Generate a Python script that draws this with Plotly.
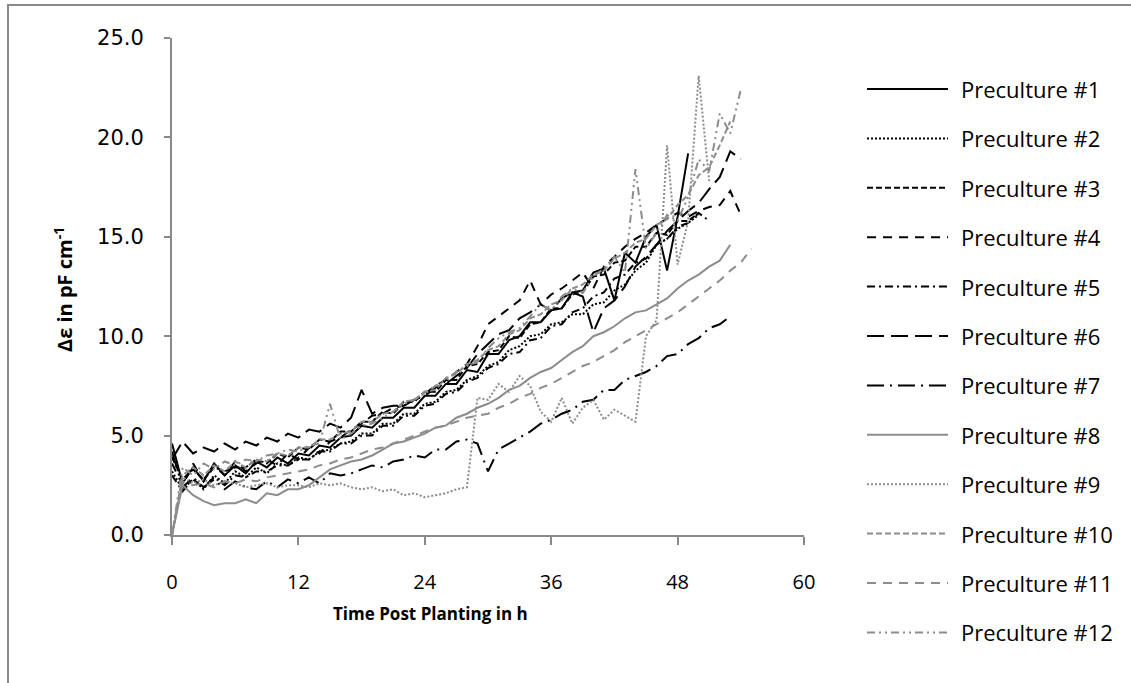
import plotly.graph_objects as go

# ---------------- data (hourly readings, h post planting) ----------------
TIME = list(range(0, 56))

names = [f"Preculture #{i}" for i in range(1, 13)]

pc1 = [4.6, 2.6, 3.4, 2.7, 3.6, 3.0, 3.5, 3.1, 3.7, 3.4, 3.9, 3.6, 4.1, 4.0, 4.5, 4.4, 4.9, 5.0, 5.5, 5.4,
       5.9, 5.9, 6.4, 6.4, 7.0, 7.0, 7.6, 7.6, 8.3, 8.2, 9.1, 9.1, 9.8, 10.0, 10.7, 10.7, 11.3, 11.4, 12.2, 12.3,
       13.2, 13.4, 11.8, 14.2, 13.7, 15.0, 15.6, 13.3, 16.0, 19.2]
pc2 = [3.2, 2.3, 2.8, 2.3, 3.0, 2.6, 3.2, 2.9, 3.4, 3.1, 3.6, 3.5, 3.9, 3.8, 4.2, 4.3, 4.6, 4.7, 5.1, 5.1,
       5.6, 5.6, 6.1, 6.1, 6.6, 6.7, 7.2, 7.3, 7.8, 8.0, 8.5, 8.7, 9.3, 9.5, 10.0, 10.1, 10.6, 10.7, 11.1, 11.1,
       11.6, 11.7, 12.3, 12.6, 13.3, 13.7, 14.6, 14.9, 15.4, 15.7, 16.1]
pc3 = [3.9, 2.8, 3.3, 2.8, 3.4, 3.2, 3.4, 3.4, 3.8, 3.6, 4.1, 3.9, 4.4, 4.3, 4.8, 4.7, 5.2, 5.2, 5.7, 5.7,
       6.2, 6.1, 6.7, 6.7, 7.2, 7.2, 7.8, 7.8, 8.5, 8.6, 9.2, 9.3, 10.0, 9.9, 10.6, 10.7, 11.4, 11.4, 12.1, 12.2,
       13.0, 13.1, 13.7, 13.8, 14.5, 14.5, 15.2, 15.1, 15.8, 15.8, 16.2]
pc4 = [3.6, 2.5, 3.6, 2.7, 3.5, 3.0, 3.7, 3.2, 3.6, 3.8, 3.5, 4.1, 3.8, 4.4, 4.1, 4.7, 4.9, 5.3, 5.6, 6.0,
       6.1, 6.4, 6.5, 6.8, 7.1, 7.5, 7.8, 8.2, 8.6, 9.5, 10.6, 11.0, 11.4, 11.8, 12.8, 11.6, 12.1, 12.4, 12.8, 13.2,
       12.4, 13.5, 14.0, 14.5, 14.9, 15.2, 15.6, 15.9, 16.2, 16.0, 16.3, 16.5, 16.6, 17.3, 16.1]
pc5 = [3.0, 2.2, 2.8, 2.4, 2.9, 2.5, 3.0, 2.9, 3.2, 3.2, 3.5, 3.5, 3.8, 3.8, 4.2, 4.2, 4.6, 4.6, 5.0, 5.0,
       5.5, 5.5, 6.0, 6.0, 6.5, 6.6, 7.1, 7.2, 7.7, 7.9, 8.4, 8.6, 9.1, 9.2, 9.8, 9.9, 10.5, 10.6, 11.2, 11.4,
       12.0, 12.2, 12.9, 13.1, 13.7, 13.9, 14.6, 14.9, 15.5, 15.7, 16.2, 15.8]
pc6 = [3.8, 4.7, 4.1, 4.4, 4.2, 4.6, 4.3, 4.7, 4.5, 4.9, 4.7, 5.1, 4.9, 5.3, 5.2, 5.6, 5.4, 5.9, 7.3, 6.1,
       6.4, 6.5, 6.5, 6.8, 7.0, 7.4, 7.6, 8.0, 8.4, 9.1, 9.6, 10.1, 10.3, 10.9, 11.2, 11.6, 11.3, 11.9, 12.2, 12.0,
       10.2, 11.4, 11.8, 12.5, 13.5, 14.0, 14.6, 15.3, 15.8, 16.3, 16.7, 17.4, 18.0, 19.3, 18.9]
pc7 = [4.2, 2.4, 2.9, 2.4, 2.8, 2.3, 2.7, 2.4, 2.3, 2.7, 2.4, 2.8, 2.6, 2.9, 2.6, 3.1, 3.0, 3.1, 3.3, 3.5,
       3.4, 3.7, 3.8, 4.0, 3.9, 4.3, 4.3, 4.7, 4.8, 4.6, 3.2, 4.3, 4.6, 4.9, 5.2, 5.6, 5.8, 6.1, 6.3, 6.7,
       6.8, 7.3, 7.3, 7.8, 8.0, 8.2, 8.5, 9.0, 9.1, 9.6, 9.9, 10.4, 10.6, 11.0]
pc8 = [0.0, 2.5, 2.0, 1.7, 1.5, 1.6, 1.6, 1.8, 1.6, 2.1, 2.0, 2.3, 2.3, 2.5, 2.9, 3.3, 3.5, 3.7, 3.8, 4.0,
       4.3, 4.6, 4.7, 4.9, 5.1, 5.4, 5.5, 5.9, 6.1, 6.4, 6.6, 6.9, 7.3, 7.5, 7.9, 8.2, 8.4, 8.8, 9.2, 9.5,
       10.0, 10.2, 10.5, 10.9, 11.2, 11.3, 11.6, 11.9, 12.4, 12.8, 13.1, 13.5, 13.8, 14.6]
pc9 = [0.0, 2.9, 2.6, 2.8, 2.5, 2.7, 2.6, 2.4, 2.5, 2.6, 2.4, 2.5, 2.5, 2.4, 2.6, 2.5, 2.6, 2.4, 2.3, 2.4,
       2.2, 2.3, 2.0, 2.1, 1.9, 2.0, 2.1, 2.3, 2.4, 6.9, 6.8, 7.6, 7.2, 8.0, 7.5, 6.2, 5.7, 6.9, 5.6, 6.4,
       6.8, 5.8, 6.3, 6.0, 5.7, 10.0, 10.8, 19.6, 13.6, 15.8, 23.1, 17.8]
pc10 = [0.0, 3.0, 3.4, 3.0, 3.5, 3.2, 3.7, 3.4, 3.8, 3.7, 4.1, 4.0, 4.4, 4.4, 4.8, 4.8, 5.1, 5.2, 5.7, 5.7,
        6.1, 6.2, 6.7, 6.8, 7.2, 7.3, 7.9, 8.1, 8.6, 8.8, 9.3, 9.5, 10.1, 10.3, 10.9, 11.1, 11.6, 11.8, 12.4, 12.6,
        13.1, 13.3, 13.9, 14.2, 14.7, 14.9, 15.6, 15.9, 16.6, 17.1, 18.1, 18.5, 19.6, 20.8]
pc11 = [0.0, 2.7, 2.5, 2.6, 2.4, 2.7, 2.6, 2.8, 2.7, 2.9, 3.0, 3.1, 3.2, 3.3, 3.5, 3.6, 3.8, 3.9, 4.1, 4.3,
        4.4, 4.6, 4.8, 5.0, 5.2, 5.4, 5.5, 5.7, 5.9, 6.0, 6.1, 6.4, 6.6, 6.9, 7.1, 7.4, 7.6, 7.9, 8.2, 8.5,
        8.7, 9.0, 9.3, 9.7, 10.0, 10.3, 10.6, 10.9, 11.2, 11.6, 12.0, 12.4, 12.8, 13.3, 13.7, 14.4]
pc12 = [0.0, 3.4, 3.0, 3.6, 3.3, 3.7, 3.5, 3.8, 3.7, 4.0, 4.1, 4.3, 4.2, 4.5, 4.6, 6.6, 4.8, 5.1, 5.5, 5.6,
        5.9, 6.2, 6.6, 6.8, 7.1, 7.5, 7.8, 8.2, 8.5, 8.7, 9.4, 9.9, 10.2, 10.4, 11.0, 11.6, 11.3, 12.0, 12.4, 12.2,
        13.0, 13.4, 14.0, 13.2, 18.4, 14.4, 15.2, 16.1, 15.8, 17.0, 18.9, 18.3, 21.2, 20.2, 22.4]

series = [pc1, pc2, pc3, pc4, pc5, pc6, pc7, pc8, pc9, pc10, pc11, pc12]

x_ticks = [0, 12, 24, 36, 48, 60]
y_ticks = [0, 5, 10, 15, 20, 25]

BLACK = "#000000"
GRAY = "#8c8c8c"
colors = [BLACK] * 7 + [GRAY] * 5
dashes = [
    "solid",
    "2px,2px",
    "6px,3px",
    "9px,7px",
    "8px,4px,2px,4px",
    "17px,7px",
    "17px,6px,2px,6px",
    "solid",
    "2px,2px",
    "6px,3px",
    "9px,7px",
    "8px,4px,2px,4px,2px,4px",
]

# ---------------- geometry (pixels) ----------------
W, H = 1131, 683
L, R, T, B = 172, 804, 38, 535   # plot-area edges


def px_x(px):
    return (px - L) / (R - L)


def px_y(py):
    return (B - py) / (B - T)


fig = go.Figure()
for name, vals, col, dsh in zip(names, series, colors, dashes):
    fig.add_trace(go.Scatter(
        x=TIME[:len(vals)], y=vals, mode="lines", name=name,
        line=dict(color=col, width=2, dash=dsh), showlegend=False,
        hoverinfo="x+y+name",
    ))

AXIS_GRAY = "#898989"
fig.update_xaxes(
    range=[0, 60], tickvals=x_ticks, ticktext=[str(v) for v in x_ticks],
    showline=True, linecolor=AXIS_GRAY, linewidth=2, showgrid=False, zeroline=False,
    ticks="outside", ticklen=8, tickwidth=2, tickcolor=AXIS_GRAY,
    tickfont=dict(family="Open Sans", size=20, color="#000000"),
    ticklabelstandoff=20,
)
fig.update_yaxes(
    range=[0, 25], tickvals=y_ticks, ticktext=[f"{v:.1f}" for v in y_ticks],
    showline=True, linecolor=AXIS_GRAY, linewidth=2, showgrid=False, zeroline=False,
    ticks="outside", ticklen=6, tickwidth=2, tickcolor=AXIS_GRAY,
    tickfont=dict(family="DejaVu Sans", size=21, color="#000000"),
    ticklabelstandoff=16,
)

annotations = [
    dict(text="<b>Time Post Planting in h</b>", xref="paper", yref="paper",
         x=px_x(430), y=px_y(613), xanchor="center", yanchor="middle", showarrow=False,
         font=dict(family="Open Sans", size=17, color="#000000")),
    dict(text="<b>Δε in pF cm<sup>-1</sup></b>", xref="paper", yref="paper",
         x=px_x(63), y=px_y(290), xanchor="center", yanchor="middle", showarrow=False,
         textangle=-90, font=dict(family="Open Sans", size=20, color="#000000")),
]

shapes = [
    dict(type="rect", xref="paper", yref="paper",
         x0=px_x(8), x1=px_x(W + 20), y0=px_y(H + 20), y1=px_y(5),
         line=dict(color=AXIS_GRAY, width=2), fillcolor="rgba(0,0,0,0)", layer="below"),
]

# legend drawn to match the original's long line samples
LEG_Y0, LEG_DY = 89, 49.4
for i, (name, col, dsh) in enumerate(zip(names, colors, dashes)):
    yy = px_y(LEG_Y0 + i * LEG_DY)
    shapes.append(dict(type="line", xref="paper", yref="paper",
                       x0=px_x(867), x1=px_x(948), y0=yy, y1=yy,
                       line=dict(color=col, width=2, dash=dsh)))
    annotations.append(dict(text=name, xref="paper", yref="paper",
                            x=px_x(959), y=yy, xanchor="left", yanchor="middle",
                            showarrow=False,
                            font=dict(family="Open Sans", size=22, color="#000000")))

fig.update_layout(
    width=W, height=H,
    margin=dict(l=L, r=W - R, t=T, b=H - B),
    paper_bgcolor="#ffffff", plot_bgcolor="#ffffff",
    shapes=shapes, annotations=annotations,
    showlegend=False,
)

fig.write_html("out.html")
